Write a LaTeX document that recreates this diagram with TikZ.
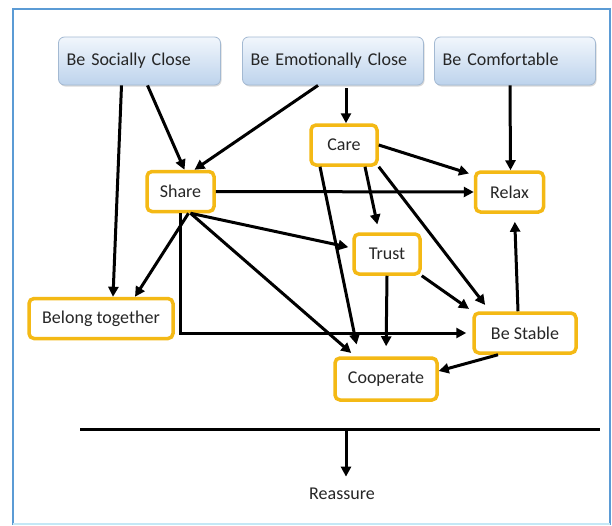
\documentclass[tikz,border=0pt]{standalone}
\usepackage{fontspec}
\setmainfont{Carlito}
\usepackage{xcolor}
\usepackage{tikz}
\usetikzlibrary{arrows.meta, shadows}

\definecolor{frameblue}{HTML}{5B9BD5}
\definecolor{framecyan}{HTML}{C4E8F6}
\definecolor{goaltop}{HTML}{F1F6FC}
\definecolor{goalbottom}{HTML}{BDD3EC}
\definecolor{goalline}{HTML}{A3B9D2}
\definecolor{needyellow}{HTML}{F4B915}
\definecolor{textgray}{HTML}{262626}

\begin{document}
\begin{tikzpicture}[
    x=1pt, y=-1pt,
    goal/.style = {rectangle, rounded corners=6pt, minimum height=48pt, text width=#1, text height=12pt, text depth=4pt, inner sep=8pt, align=left, draw=goalline, line width=0.8pt, top color=goaltop, bottom color=goalbottom, drop shadow={shadow xshift=1pt, shadow yshift=-1.5pt, opacity=0.3}, font=\fontsize{18}{20}\selectfont, text=textgray},
    need/.style = {rectangle, rounded corners=5pt, minimum height=40pt, minimum width=#1, draw=needyellow, line width=3.5pt, fill=white, font=\fontsize{18}{20}\selectfont, text=textgray},
    arrow/.style = {-{Triangle[length=10pt,width=10pt]}, line width=3pt}
]
    \useasboundingbox (0,0) rectangle (612,525);
    \fill[white] (0,0) rectangle (612,525);
    \draw[frameblue, line width=2.5pt] (13,9) rectangle (610,524);
    \draw[framecyan, line width=2.5pt] (13,524) -- (610,524);

    % top row
    \node[goal=146pt] (social) at (139.5,61) {Be Socially Close};
    \node[goal=165pt] (emotional) at (333,61) {Be Emotionally Close};
    \node[goal=145pt] (comfortable) at (515,61) {Be Comfortable};

    % needs
    \node[need=66pt] (care) at (344,145) {Care};
    \node[need=67pt] (share) at (180.5,191.5) {Share};
    \node[need=68pt] (relax) at (509.5,192) {Relax};
    \node[need=66pt] (trust) at (387,254) {Trust};
    \node[need=144pt] (belong) at (101,318.5) {Belong together};
    \node[need=102pt] (stable) at (525,333) {Be Stable};
    \node[need=102pt, minimum height=42pt] (cooperate) at (386,379) {Cooperate};

    \draw[arrow] ([xshift=-18pt]social.south) -- ([xshift=12pt]belong.north);
    \draw[arrow] ([xshift=8pt]social.south) -- ([xshift=4pt]share.north);
    \draw[arrow] ([xshift=-15pt]emotional.south) -- ([xshift=14pt]share.north);
    \draw[arrow, shorten <=3pt] ([xshift=13pt]emotional.south) -- ([xshift=2pt]care.north);
    \draw[arrow] ([xshift=-5pt]comfortable.south) -- ([xshift=1pt]relax.north);
    \draw[arrow, shorten >=5pt] (care.east) -- ([yshift=17pt]relax.west);
    \draw[arrow, shorten >=12pt] ([xshift=-24pt]care.south) -- ([xshift=-27pt]cooperate.north);
    \draw[arrow, shorten >=8pt] ([xshift=21pt]care.south) -- ([xshift=-8pt]trust.north);
    \draw[arrow, shorten >=8pt] (care.south east) -- ([xshift=-35pt]stable.north);
    \draw[arrow] (share.east) -- (relax.west);
    \draw[arrow] ([xshift=8pt]share.south) -- ([xshift=34pt]belong.north);
    \draw[arrow, shorten >=4pt] ([xshift=10pt]share.south) -- ([yshift=6pt]trust.west);
    \draw[arrow, shorten >=5pt] ([xshift=10pt]share.south) -- ([xshift=-31pt]cooperate.north);
    \draw[arrow, shorten >=6pt] (share.south) |- (stable.west);
    \draw[arrow, shorten >=10pt] (trust.south) -- (cooperate.north);
    \draw[arrow, shorten >=4pt] (trust.south east) -- (stable.north west);
    \draw[arrow, shorten >=8pt] ([xshift=-7pt]stable.north) -- ([xshift=5pt]relax.south);
    \draw[arrow] ([xshift=-27pt]stable.south) -- ([yshift=8pt]cooperate.east);

    % bottom bar
    \coordinate (barleft) at (80,429);
    \coordinate (barright) at (600,429);
    \coordinate (barmid) at (346,429);
    \node[font=\fontsize{18}{20}\selectfont, text=textgray] (reassure) at (342,494) {Reassure};
    \draw[line width=3pt] (barleft) -- (barright);
    \draw[arrow, shorten >=8pt] (barmid) -- (barmid |- reassure.north);
\end{tikzpicture}
\end{document}
